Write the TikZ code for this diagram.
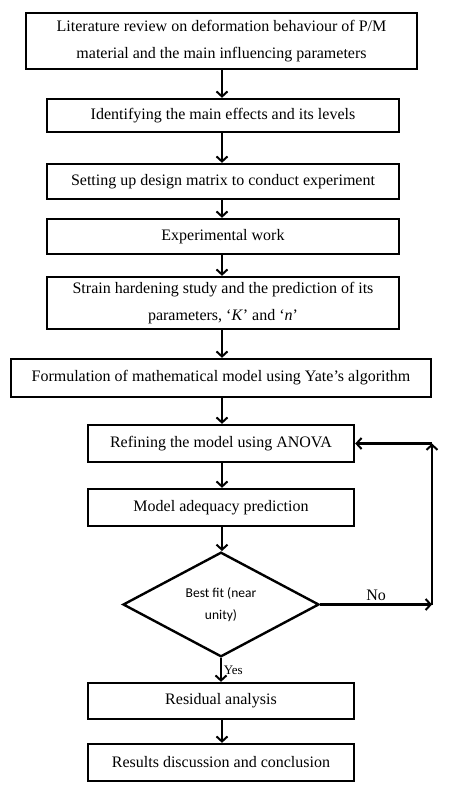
\documentclass[tikz,border=0pt]{standalone}
\usepackage{fontspec}
\setmainfont{Liberation Serif}
\newfontfamily\diafont{Carlito}
\usetikzlibrary{arrows.meta,positioning,shapes.geometric}
\tikzset{
  stepbox/.style={draw, line width=2.4pt, fill=white, align=center, inner sep=0pt,
                  font=\fontsize{16}{27}\selectfont},
  decide/.style={draw, line width=2.4pt, diamond, fill=white, align=center, inner sep=0pt,
                 font=\diafont\fontsize{13.5}{22}\selectfont},
  flow/.style={-{Straight Barb[length=5pt,width=11pt,line width=2pt]}, line width=2.6pt},
}

\begin{document}
\begin{tikzpicture}[x=1pt, y=-1pt]
    \useasboundingbox (0,0) rectangle (456,793);
    \node[stepbox, minimum width=391pt, minimum height=56pt] (lit) at (221.5,41)
        {Literature review on deformation behaviour of P/M\\material and the main influencing parameters};
    \node[stepbox, minimum width=352pt, minimum height=33pt] (ident) at (223,115.5)
        {Identifying the main effects and its levels};
    \node[stepbox, minimum width=352pt, minimum height=35pt] (design) at (223,181.5)
        {Setting up design matrix to conduct experiment};
    \node[stepbox, minimum width=352pt, minimum height=35pt] (expt) at (223,236.5)
        {Experimental work};
    \node[stepbox, minimum width=352pt, minimum height=52pt] (strain) at (223,303)
        {Strain hardening study and the prediction of its\\parameters, ‘\textit{K}’ and ‘\textit{n}’};
    \node[stepbox, minimum width=420pt, minimum height=38pt] (formul) at (221,378)
        {Formulation of mathematical model using Yate’s algorithm};
    \node[stepbox, minimum width=266pt, minimum height=37pt] (refine) at (221,443.5)
        {Refining the model using ANOVA};
    \node[stepbox, minimum width=266pt, minimum height=37pt] (adeq) at (221,507.5)
        {Model adequacy prediction};
    \node[decide, minimum width=196pt, minimum height=101pt] (best) at (221,604.5)
        {Best fit (near\\unity)};
    \node[stepbox, minimum width=266pt, minimum height=36pt] (resid) at (221,701)
        {Residual analysis};
    \node[stepbox, minimum width=266pt, minimum height=37pt] (concl) at (221,762.5)
        {Results discussion and conclusion};
    \coordinate (noturn) at (432,604.5);
    \coordinate (nocorner) at (432,443.5);
    \foreach \a/\b in {lit/ident, ident/design, design/expt, expt/strain, strain/formul,
                       formul/refine, refine/adeq, adeq/best, resid/concl}
        { \draw[flow] (\b.north -| 222,0) ++(0,0) coordinate (tip)
              (\a.south -| tip) -- (tip); }
    \draw[flow] (best.south) -- node[right, inner sep=1.5pt, font=\fontsize{13}{15}\selectfont]{Yes} (resid.north);
    \draw[flow] (best.east) -- node[above, inner sep=3pt, font=\fontsize{16}{18}\selectfont]{No} (noturn);
    \draw[flow] (noturn) -- (nocorner);
    \draw[flow] (nocorner) -- (refine.east);
\end{tikzpicture}
\end{document}
